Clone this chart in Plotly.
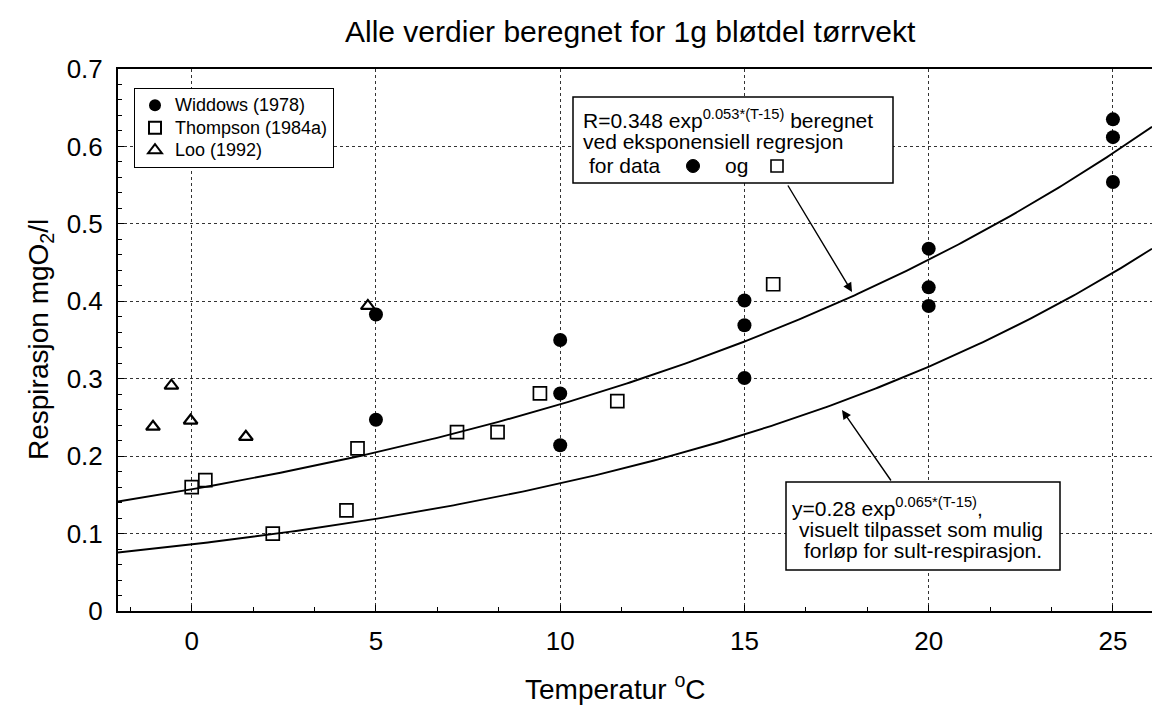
import numpy as np
import plotly.graph_objects as go

# ---------------- data ----------------
widdows_T = [5, 5, 10, 10, 10, 15, 15, 15, 20, 20, 20, 25, 25, 25]
widdows_R = [0.383, 0.247, 0.350, 0.281, 0.214, 0.401, 0.369, 0.301,
             0.468, 0.418, 0.394, 0.635, 0.612, 0.554]

thompson_T = [0.0, 0.37, 2.2, 4.2, 4.5, 7.2, 8.3, 9.45, 11.55, 15.78]
thompson_R = [0.160, 0.169, 0.100, 0.130, 0.210, 0.231, 0.231, 0.281, 0.271, 0.422]

loo_T = [-1.05, -0.55, -0.03, 1.47, 4.78]
loo_R = [0.238, 0.291, 0.246, 0.225, 0.394]

# model curves R = a * exp(b*(T-15))  (as drawn in the figure)
fit_a = [0.348, 0.228]
fit_b = [0.053, 0.065]

series_names = ["Widdows (1978)", "Thompson (1984a)", "Loo (1992)"]

x_ticks = [0, 5, 10, 15, 20, 25]
y_ticks = [0, 0.1, 0.2, 0.3, 0.4, 0.5, 0.6, 0.7]
y_ticklabels = ["0", "0.1", "0.2", "0.3", "0.4", "0.5", "0.6", "0.7"]

X_RANGE = [-2, 26.06]
Y_RANGE = [0, 0.7]

# ---------------- layout geometry ----------------
W, H = 1152, 706
ML, MR, MT, MB = 118, 0, 69, 95
PW, PH = W - ML - MR, H - MT - MB
FONT = "Liberation Sans, Arial, Helvetica, sans-serif"


def dx(px):  # pixel x -> data x
    return X_RANGE[0] + (px - ML) / PW * (X_RANGE[1] - X_RANGE[0])


def dy(py):  # pixel y -> data y
    return Y_RANGE[0] + (H - MB - py) / PH * (Y_RANGE[1] - Y_RANGE[0])


def px_paper(px):
    return (px - ML) / PW


def py_paper(py):
    return (H - MB - py) / PH


def leg_name(s):
    return f'<span style="font-size:18px">{s}</span>'


fig = go.Figure()

T = np.linspace(X_RANGE[0], X_RANGE[1], 300)
for a, b in zip(fit_a, fit_b):
    fig.add_trace(go.Scatter(x=T, y=a * np.exp(b * (T - 15)), mode="lines",
                             line=dict(color="black", width=1.9),
                             showlegend=False, hoverinfo="skip"))

fig.add_trace(go.Scatter(x=widdows_T, y=widdows_R, mode="markers", name=leg_name(series_names[0]),
                         marker=dict(symbol="circle", size=14, color="black")))
fig.add_trace(go.Scatter(x=thompson_T, y=thompson_R, mode="markers", name=leg_name(series_names[1]),
                         marker=dict(symbol="square-open", size=13, color="black",
                                     line=dict(width=1.7, color="black"))))
fig.add_trace(go.Scatter(x=loo_T, y=loo_R, mode="markers", name=leg_name(series_names[2]),
                         marker=dict(symbol="triangle-up-open", size=12, color="black",
                                     line=dict(width=2.2, color="black"))))

ABOX = 21

shapes = [
    # annotation frames
    dict(type="rect", xref="x", yref="y", x0=dx(573), x1=dx(893), y0=dy(183), y1=dy(97),
         line=dict(color="black", width=1.5), fillcolor="white", layer="above"),
    dict(type="rect", xref="x", yref="y", x0=dx(786), x1=dx(1060), y0=dy(570), y1=dy(482),
         line=dict(color="black", width=1.5), fillcolor="white", layer="above"),
    # symbols inside the first frame ("for data  ●  og  □")
    dict(type="circle", xref="x", yref="y", x0=dx(686.5), x1=dx(699.5), y0=dy(172.5), y1=dy(159.5),
         line=dict(color="black", width=1), fillcolor="black", layer="above"),
    dict(type="rect", xref="x", yref="y", x0=dx(771), x1=dx(783), y0=dy(172), y1=dy(160),
         line=dict(color="black", width=1.6), fillcolor="white", layer="above"),
]


def line_ann(text, px, baseline, anchor="left", size=ABOX):
    return dict(x=dx(px), y=dy(baseline + 6), xref="x", yref="y", xanchor=anchor,
                yanchor="bottom", text=text, showarrow=False,
                font=dict(family=FONT, size=size, color="black"), borderpad=0)


annotations = [
    # box 1
    line_ann("R=0.348 exp<sup>0.053*(T-15)</sup> beregnet", 582, 127),
    line_ann("ved eksponensiell regresjon", 582, 148),
    line_ann("for data", 588, 172),
    line_ann("og", 724, 172),
    # box 2
    line_ann("y=0.28 exp<sup>0.065*(T-15)</sup>,", 791, 515),
    line_ann("visuelt tilpasset som mulig", 798, 536),
    line_ann("forløp for sult-respirasjon.", 803, 557),
    # arrows
    dict(x=dx(852), y=dy(292), ax=dx(787), ay=dy(184), xref="x", yref="y", axref="x", ayref="y",
         text="", showarrow=True, arrowhead=2, arrowsize=1.3, arrowwidth=1.4, arrowcolor="black"),
    dict(x=dx(842), y=dy(410), ax=dx(892), ay=dy(482), xref="x", yref="y", axref="x", ayref="y",
         text="", showarrow=True, arrowhead=2, arrowsize=1.3, arrowwidth=1.4, arrowcolor="black"),
    # axis titles and chart title
    dict(x=px_paper(40), y=0.5, xref="paper", yref="paper", xanchor="center", yanchor="middle",
         text="Respirasjon mgO<sub>2</sub>/l", textangle=-90, showarrow=False,
         font=dict(family=FONT, size=28, color="black")),
    dict(x=px_paper(615), y=py_paper(687), xref="paper", yref="paper", xanchor="center",
         yanchor="middle", text="Temperatur <sup>o</sup>C", showarrow=False,
         font=dict(family=FONT, size=28, color="black")),
    dict(x=px_paper(630), y=py_paper(32), xref="paper", yref="paper", xanchor="center",
         yanchor="middle", text="Alle verdier beregnet for 1g bløtdel tørrvekt", showarrow=False,
         font=dict(family=FONT, size=30, color="black")),
]

fig.update_layout(
    width=W, height=H, autosize=False,
    margin=dict(l=ML, r=MR, t=MT, b=MB, autoexpand=False),
    paper_bgcolor="white", plot_bgcolor="white",
    font=dict(family=FONT, color="black"),
    showlegend=True,
    legend=dict(x=px_paper(134), y=py_paper(88), xanchor="left", yanchor="top",
                bgcolor="white", bordercolor="black", borderwidth=1,
                font=dict(family=FONT, size=15, color="black"),
                tracegroupgap=0, itemsizing="constant"),
    shapes=shapes,
    annotations=annotations,
)

fig.update_xaxes(range=X_RANGE, tickmode="array", tickvals=x_ticks,
                 ticks="inside", ticklen=6, tickcolor="black",
                 showline=True, linecolor="black", linewidth=2, mirror=True,
                 showgrid=True, gridcolor="#333333", griddash="dot", gridwidth=1,
                 zeroline=False, ticklabelstandoff=6,
                 tickfont=dict(family=FONT, size=26, color="black"),
                 minor=dict(tick0=0, dtick=5 / 3, ticks="inside", ticklen=4,
                            tickcolor="black", showgrid=False))
fig.update_yaxes(range=Y_RANGE, tickmode="array", tickvals=y_ticks, ticktext=y_ticklabels,
                 ticks="inside", ticklen=6, tickcolor="black",
                 showline=True, linecolor="black", linewidth=2, mirror=False,
                 showgrid=True, gridcolor="#333333", griddash="dot", gridwidth=1,
                 zeroline=False, ticklabelstandoff=8,
                 tickfont=dict(family=FONT, size=26, color="black"),
                 minor=dict(tick0=0, dtick=0.02, ticks="inside", ticklen=4,
                            tickcolor="black", showgrid=False))

fig.write_html("out.html", config={"displayModeBar": False},
               post_script="document.body.style.margin='0';document.body.style.overflow='hidden';")
